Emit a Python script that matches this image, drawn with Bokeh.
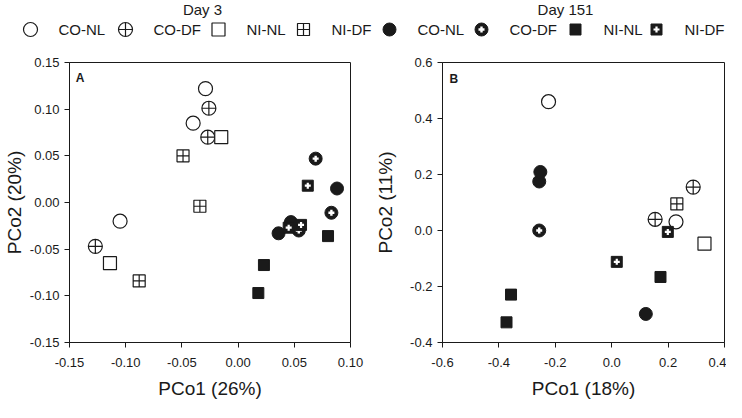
from bokeh.plotting import figure
from bokeh.layouts import column, row
from bokeh.models import Range1d, FixedTicker, NumeralTickFormatter, Label
from bokeh.core.properties import value
from bokeh.embed import file_html
from bokeh.resources import INLINE

FONT = "Liberation Sans"
INK = "#1a1a1a"

# ---------------- data ----------------
groups = ["CO-NL", "CO-DF", "NI-NL", "NI-DF"]

# Panel A (Day 3 samples: open markers; Day 151 samples: filled markers)
a_d3_conl_x = [-0.029, -0.040, -0.105]
a_d3_conl_y = [0.122, 0.085, -0.020]
a_d3_codf_x = [-0.026, -0.027, -0.127]
a_d3_codf_y = [0.101, 0.070, -0.047]
a_d3_ninl_x = [-0.015, -0.114]
a_d3_ninl_y = [0.070, -0.065]
a_d3_nidf_x = [-0.049, -0.034, -0.088]
a_d3_nidf_y = [0.050, -0.004, -0.084]

a_d151_conl_x = [0.088, 0.036, 0.047]
a_d151_conl_y = [0.015, -0.033, -0.021]
a_d151_codf_x = [0.069, 0.083, 0.054]
a_d151_codf_y = [0.047, -0.011, -0.030]
a_d151_ninl_x = [0.080, 0.023, 0.018]
a_d151_ninl_y = [-0.036, -0.067, -0.097]
a_d151_nidf_x = [0.062, 0.045, 0.056]
a_d151_nidf_y = [0.018, -0.027, -0.024]

# Panel B
b_d3_conl_x = [-0.224, 0.228]
b_d3_conl_y = [0.460, 0.031]
b_d3_codf_x = [0.289, 0.154]
b_d3_codf_y = [0.155, 0.040]
b_d3_ninl_x = [0.329]
b_d3_ninl_y = [-0.047]
b_d3_nidf_x = [0.231]
b_d3_nidf_y = [0.095]

b_d151_conl_x = [-0.257, -0.253, 0.121]
b_d151_conl_y = [0.175, 0.209, -0.298]
b_d151_codf_x = [-0.257]
b_d151_codf_y = [0.000]
b_d151_ninl_x = [-0.357, -0.373, 0.173]
b_d151_ninl_y = [-0.229, -0.328, -0.166]
b_d151_nidf_x = [0.018, 0.199]
b_d151_nidf_y = [-0.112, -0.005]

a_xticks = [-0.15, -0.10, -0.05, 0.00, 0.05, 0.10]
a_yticks = [-0.15, -0.10, -0.05, 0.00, 0.05, 0.10, 0.15]
b_xticks = [-0.6, -0.4, -0.2, 0.0, 0.2, 0.4]
b_yticks = [-0.4, -0.2, 0.0, 0.2, 0.4, 0.6]

titles = ["Day 3", "Day 151"]


# ---------------- marker styles ----------------
def draw(p, kind, x, y):
    if kind == "d3_conl":
        p.scatter(x, y, marker="circle", size=14, fill_color="white", line_color=INK, line_width=1.2)
    elif kind == "d3_codf":
        p.scatter(x, y, marker="circle_cross", size=14, fill_color="white", line_color=INK, line_width=1.2)
    elif kind == "d3_ninl":
        p.scatter(x, y, marker="square", size=13, fill_color="white", line_color=INK, line_width=1.2)
    elif kind == "d3_nidf":
        p.scatter(x, y, marker="square_cross", size=12, fill_color="white", line_color=INK, line_width=1.2)
    elif kind == "d151_conl":
        p.scatter(x, y, marker="circle", size=13, fill_color=INK, line_color=INK, line_width=1)
    elif kind == "d151_codf":
        p.scatter(x, y, marker="circle", size=13, fill_color=INK, line_color=INK, line_width=1)
        p.scatter(x, y, marker="cross", size=6, line_color="white", line_width=2.4)
    elif kind == "d151_ninl":
        p.scatter(x, y, marker="square", size=11, fill_color=INK, line_color=INK, line_width=1)
    elif kind == "d151_nidf":
        p.scatter(x, y, marker="square", size=11, fill_color=INK, line_color=INK, line_width=1)
        p.scatter(x, y, marker="cross", size=6, line_color="white", line_width=2.2)


def style_axes(p, xticks, yticks, fmt, xlabel, ylabel, ystand):
    p.xaxis.ticker = FixedTicker(ticks=xticks)
    p.yaxis.ticker = FixedTicker(ticks=yticks)
    p.xaxis.formatter = NumeralTickFormatter(format=fmt)
    p.yaxis.formatter = NumeralTickFormatter(format=fmt)
    p.xaxis.axis_label = xlabel
    p.yaxis.axis_label = ylabel
    for ax in (p.xaxis, p.yaxis):
        ax.minor_tick_line_color = None
        ax.major_tick_in = 0
        ax.major_tick_out = 5
        ax.axis_line_color = INK
        ax.major_tick_line_color = INK
        ax.major_label_text_font = FONT
        ax.major_label_text_font_size = "13px"
        ax.major_label_text_color = INK
        ax.axis_label_text_font = FONT
        ax.axis_label_text_font_size = "19px"
        ax.axis_label_text_font_style = "normal"
        ax.axis_label_text_color = INK
    p.xaxis.major_label_standoff = 10
    p.yaxis.major_label_standoff = 5
    p.xaxis.axis_label_standoff = 8
    p.yaxis.axis_label_standoff = ystand
    p.grid.visible = False
    p.outline_line_color = INK
    p.outline_line_alpha = 1
    p.background_fill_color = "white"
    p.border_fill_color = "white"


# ---------------- panel A ----------------
pa = figure(width=372, height=350, x_range=Range1d(-0.15, 0.10), y_range=Range1d(-0.15, 0.15),
            output_backend="svg", toolbar_location=None,
            min_border_left=65, min_border_right=22, min_border_top=8, min_border_bottom=60)
style_axes(pa, a_xticks, a_yticks, "0.00", "PCo1 (26%)", "PCo2 (20%)", 2)
draw(pa, "d3_conl", a_d3_conl_x, a_d3_conl_y)
draw(pa, "d3_codf", a_d3_codf_x, a_d3_codf_y)
draw(pa, "d3_ninl", a_d3_ninl_x, a_d3_ninl_y)
draw(pa, "d3_nidf", a_d3_nidf_x, a_d3_nidf_y)
draw(pa, "d151_conl", a_d151_conl_x, a_d151_conl_y)
draw(pa, "d151_codf", a_d151_codf_x, a_d151_codf_y)
draw(pa, "d151_ninl", a_d151_ninl_x, a_d151_ninl_y)
draw(pa, "d151_nidf", a_d151_nidf_x, a_d151_nidf_y)
pa.add_layout(Label(x=-0.1445, y=0.141, text="A", text_font=FONT, text_font_size="12px",
                    text_font_style="bold", text_color=INK, text_baseline="top"))

# ---------------- panel B ----------------
pb = figure(width=354, height=350, x_range=Range1d(-0.6, 0.4), y_range=Range1d(-0.4, 0.6),
            output_backend="svg", toolbar_location=None,
            min_border_left=69, min_border_right=2, min_border_top=10, min_border_bottom=59)
style_axes(pb, b_xticks, b_yticks, "0.0", "PCo1 (18%)", "PCo2 (11%)", 11)
draw(pb, "d3_conl", b_d3_conl_x, b_d3_conl_y)
draw(pb, "d3_codf", b_d3_codf_x, b_d3_codf_y)
draw(pb, "d3_ninl", b_d3_ninl_x, b_d3_ninl_y)
draw(pb, "d3_nidf", b_d3_nidf_x, b_d3_nidf_y)
draw(pb, "d151_conl", b_d151_conl_x, b_d151_conl_y)
draw(pb, "d151_codf", b_d151_codf_x, b_d151_codf_y)
draw(pb, "d151_ninl", b_d151_ninl_x, b_d151_ninl_y)
draw(pb, "d151_nidf", b_d151_nidf_x, b_d151_nidf_y)
pb.add_layout(Label(x=-0.575, y=0.565, text="B", text_font=FONT, text_font_size="12px",
                    text_font_style="bold", text_color=INK, text_baseline="top"))

# ---------------- header: titles + legend ----------------
hd = figure(width=726, height=52, x_range=Range1d(8, 734), y_range=Range1d(60, 8),
            output_backend="svg", toolbar_location=None, min_border=0,
            x_axis_location=None, y_axis_location=None, outline_line_color=None)
hd.grid.visible = False
title_x = [210, 573]
hd.text(x=title_x, y=[8, 8], text=titles, text_font=value(FONT), text_font_size="15px",
        text_align="center", text_baseline="top", text_color=INK)

leg_y = 37
mark_x = [38, 133, 226, 311, 397, 489, 583, 664]
kinds = ["d3_conl", "d3_codf", "d3_ninl", "d3_nidf", "d151_conl", "d151_codf", "d151_ninl", "d151_nidf"]
for mx, k in zip(mark_x, kinds):
    draw(hd, k, [mx], [leg_y])
hd.text(x=[m + 28 for m in mark_x], y=[leg_y] * 8, text=groups + groups,
        text_font=value(FONT), text_font_size="15px", text_align="left",
        text_baseline="middle", text_color=INK)

layout = column(hd, row(pa, pb))
open("out.html", "w").write(file_html(layout, INLINE))
